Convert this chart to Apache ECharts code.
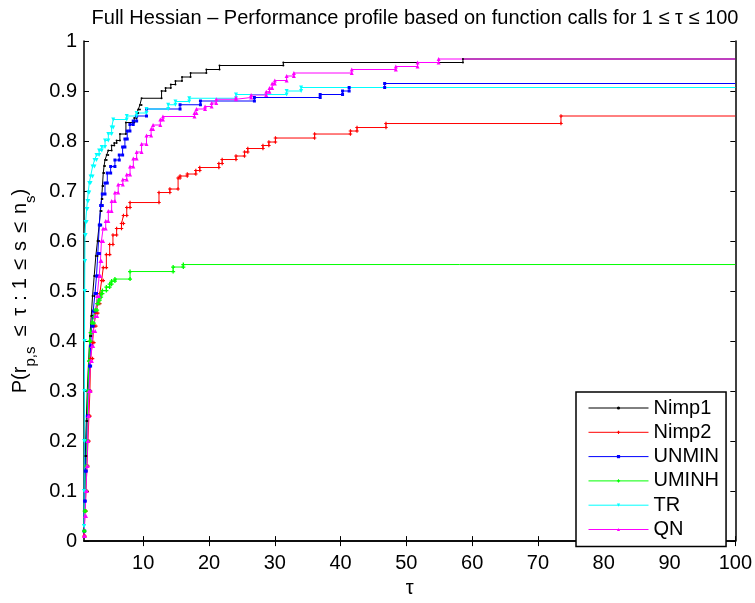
<!DOCTYPE html>
<html>
<head>
<meta charset="utf-8">
<script src="https://cdn.jsdelivr.net/npm/echarts@6/dist/echarts.min.js"></script>
<style>
  html, body { margin: 0; padding: 0; background: #fff; }
  #chart { width: 755px; height: 603px; }
</style>
</head>
<body>
<div id="chart"></div>
<script>
// Performance profiles (stairs): tau where the fraction jumps, and the fraction reached there.
const nimp1Tau = [1, 1.1, 1.2, 1.35, 1.5, 1.7, 1.9, 2.1, 2.3, 2.55, 2.8, 3.05, 3.3, 3.5, 3.68, 3.8, 3.93, 4.05, 4.19, 4.45, 4.69, 5.2, 5.6, 5.96, 6.46, 7.37, 8.64, 9.0, 9.24, 9.5, 9.75, 12.79, 13.4, 14.2, 14.9, 15.9, 17.2, 19.6, 21.6, 31.3, 58.6];
const nimp1Rho = [0.02, 0.1, 0.17, 0.24, 0.3, 0.36, 0.41, 0.45, 0.49, 0.53, 0.57, 0.6, 0.632, 0.66, 0.684, 0.71, 0.736, 0.75, 0.762, 0.772, 0.781, 0.791, 0.796, 0.801, 0.814, 0.837, 0.846, 0.856, 0.863, 0.872, 0.8855, 0.900, 0.906, 0.913, 0.920, 0.928, 0.936, 0.943, 0.951, 0.957, 0.964];

const nimp2Tau = [1, 1.15, 1.3, 1.45, 1.6, 1.75, 1.9, 2.0, 2.3, 2.5, 2.8, 3.1, 3.4, 3.68, 3.93, 4.4, 4.9, 5.4, 5.96, 6.7, 7.0, 7.5, 8.0, 12.4, 14.05, 15.3, 15.6, 16.7, 18.0, 18.6, 21.5, 22.0, 24.1, 25.4, 25.9, 28.2, 29.1, 30.1, 36.05, 41.5, 42.5, 46.9, 73.5];
const nimp2Rho = [0.01, 0.06, 0.1, 0.15, 0.2, 0.25, 0.3, 0.365, 0.397, 0.43, 0.456, 0.475, 0.495, 0.521, 0.547, 0.573, 0.593, 0.612, 0.625, 0.635, 0.651, 0.667, 0.677, 0.697, 0.704, 0.726, 0.730, 0.734, 0.741, 0.747, 0.755, 0.763, 0.770, 0.778, 0.785, 0.791, 0.798, 0.806, 0.814, 0.820, 0.827, 0.835, 0.850];

const unminTau = [1, 1.1, 1.2, 1.35, 1.5, 1.65, 1.85, 2.0, 2.17, 2.4, 2.67, 2.9, 3.1, 3.33, 3.53, 3.78, 4.19, 4.54, 5.05, 5.7, 6.36, 6.87, 7.22, 7.57, 7.98, 8.48, 9.0, 10.5, 15.6, 18.7, 26.9, 36.9, 40.3, 41.3, 46.7];
const unminRho = [0.02, 0.08, 0.14, 0.2, 0.25, 0.3, 0.35, 0.39, 0.43, 0.46, 0.495, 0.53, 0.575, 0.632, 0.671, 0.694, 0.716, 0.736, 0.749, 0.762, 0.772, 0.788, 0.804, 0.820, 0.833, 0.840, 0.850, 0.864, 0.8725, 0.880, 0.887, 0.893, 0.900, 0.907, 0.915];

const uminhTau = [1, 1.1, 1.25, 1.35, 1.45, 1.6, 1.75, 1.85, 2.0, 2.2, 2.5, 2.7, 3.0, 3.2, 3.4, 3.6, 3.8, 4.4, 4.9, 5.2, 5.7, 8.0, 14.55, 16.1];
const uminhRho = [0.02, 0.06, 0.1, 0.15, 0.2, 0.3, 0.36, 0.4, 0.417, 0.436, 0.449, 0.462, 0.475, 0.482, 0.488, 0.495, 0.501, 0.508, 0.514, 0.52, 0.524, 0.539, 0.548, 0.553];

const trTau = [1, 1.02, 1.04, 1.06, 1.08, 1.1, 1.13, 1.15, 1.25, 1.4, 1.52, 1.65, 1.8, 2.0, 2.3, 2.6, 2.9, 3.3, 3.7, 4.2, 4.7, 5.2, 5.45, 7.5, 9.0, 10.5, 13.8, 14.9, 17.0, 24.1, 31.8, 34.0];
const trRho = [0.03, 0.1, 0.2, 0.3, 0.4, 0.5, 0.56, 0.612, 0.638, 0.664, 0.68, 0.697, 0.716, 0.729, 0.749, 0.762, 0.772, 0.781, 0.788, 0.801, 0.814, 0.827, 0.843, 0.850, 0.856, 0.864, 0.8725, 0.879, 0.8855, 0.893, 0.900, 0.907];

const qnTau = [1, 1.15, 1.3, 1.45, 1.55, 1.65, 1.75, 2.0, 2.2, 2.4, 2.7, 3.0, 3.3, 3.5, 3.65, 3.9, 4.3, 4.7, 5.2, 5.7, 6.2, 6.9, 7.5, 8.0, 8.5, 9.0, 9.75, 10.5, 11.2, 11.5, 12.6, 13.0, 17.8, 18.1, 19.4, 20.4, 21.1, 24.1, 26.4, 28.7, 29.2, 29.6, 30.0, 31.8, 32.9, 41.7, 48.4, 51.7, 54.9];
const qnRho = [0.01, 0.05, 0.1, 0.15, 0.2, 0.25, 0.3, 0.36, 0.39, 0.42, 0.45, 0.49, 0.53, 0.56, 0.6, 0.625, 0.64, 0.66, 0.68, 0.697, 0.713, 0.723, 0.733, 0.749, 0.765, 0.778, 0.794, 0.811, 0.824, 0.832, 0.843, 0.849, 0.856, 0.864, 0.869, 0.876, 0.8835, 0.887, 0.892, 0.8986, 0.906, 0.915, 0.921, 0.930, 0.936, 0.943, 0.949, 0.957, 0.964];

const tauMin = 1;
const tauMax = 100;
const xTickValues = [10, 20, 30, 40, 50, 60, 70, 80, 90, 100];

const FONT = "'Liberation Sans', Arial, Helvetica, sans-serif";

// Turn (tau, rho) jumps into the corner points of a staircase, with a marker on each corner.
function stairs(tau, rho) {
  const pts = [[tau[0], rho[0]]];
  for (let i = 1; i < tau.length; i++) {
    pts.push([tau[i], rho[i - 1]]);
    pts.push([tau[i], rho[i]]);
  }
  pts.push({ value: [tauMax, rho[rho.length - 1]], symbol: 'none' });
  return pts;
}

const PLUS = 'path://M2,0h2v2h2v2h-2v2h-2v-2h-2v-2h2z';

function profile(name, tau, rho, color, symbol, size, rotate) {
  return {
    name: name,
    type: 'line',
    xAxisIndex: 0,
    yAxisIndex: 0,
    data: stairs(tau, rho),
    showSymbol: true,
    showAllSymbol: true,
    symbol: symbol,
    symbolSize: size,
    symbolRotate: rotate || 0,
    itemStyle: { color: color },
    lineStyle: { color: color, width: 1 },
    emphasis: { disabled: true },
    silent: true
  };
}

const chart = echarts.init(document.getElementById('chart'), null, { renderer: 'canvas' });

const yName = '{m|P(r}{sa|p,s}{o5|\u2264}{o5|\u03c4}{c|:}{o4|1}{o4|\u2264}{o4|s}{o4|\u2264}{on|n}{sb|s}{m|)}';

const tickInside = { show: true, inside: true, length: 5, lineStyle: { color: '#000', width: 1 } };
const axisLine = { show: true, lineStyle: { color: '#000', width: 1.5 } };

chart.setOption({
  animation: false,
  backgroundColor: '#fff',
  textStyle: { fontFamily: FONT },
  title: {
    text: 'Full Hessian \u2013 Performance profile based on function calls for 1 \u2264 \u03c4 \u2264 100',
    left: 410,
    textAlign: 'center',
    top: 3,
    textStyle: { fontFamily: FONT, fontSize: 20, fontWeight: 'normal', color: '#000' }
  },
  grid: { left: 84, right: 19, top: 41, bottom: 50, containLabel: false },
  legend: {
    orient: 'vertical',
    left: 576,
    top: 392,
    padding: [6, 7, 7, 12],
    itemGap: 4.3,
    itemWidth: 60,
    itemHeight: 4,
    backgroundColor: '#fff',
    borderColor: '#000',
    borderWidth: 1.5,
    borderRadius: 0,
    lineStyle: { width: 1 },
    textStyle: { fontFamily: FONT, fontSize: 20, color: '#000', lineHeight: 20 },
    data: ['Nimp1', 'Nimp2', 'UNMIN', 'UMINH', 'TR', 'QN']
  },
  xAxis: [
    {
      type: 'value', position: 'bottom', min: tauMin, max: tauMax,
      axisLine: axisLine,
      axisTick: Object.assign({ customValues: xTickValues }, tickInside),
      axisLabel: { customValues: xTickValues, fontFamily: FONT, fontSize: 20, color: '#000', margin: 12 },
      splitLine: { show: false },
      name: '\u03c4', nameLocation: 'middle', nameGap: 14,
      nameTextStyle: { fontFamily: FONT, fontSize: 20, color: '#000' }
    },
    {
      type: 'value', position: 'top', min: tauMin, max: tauMax,
      axisLine: axisLine,
      axisTick: Object.assign({ customValues: xTickValues }, tickInside),
      axisLabel: { show: false },
      splitLine: { show: false }
    }
  ],
  yAxis: [
    {
      type: 'value', position: 'left', min: 0, max: 1, interval: 0.1,
      axisLine: axisLine,
      axisTick: tickInside,
      axisLabel: { fontFamily: FONT, fontSize: 20, color: '#000', margin: 7 },
      splitLine: { show: false },
      name: yName, nameLocation: 'middle', nameRotate: 90, nameGap: 44,
      nameTextStyle: {
        fontFamily: FONT, color: '#000',
        rich: {
          m:  { fontFamily: FONT, fontSize: 20, lineHeight: 36, color: '#000' },
          sa: { fontFamily: FONT, fontSize: 15, lineHeight: 15, verticalAlign: 'bottom', padding: [0, 5, 0, 0], color: '#000' },
          sb: { fontFamily: FONT, fontSize: 15, lineHeight: 15, verticalAlign: 'bottom', color: '#000' },
          o5: { fontFamily: FONT, fontSize: 20, lineHeight: 36, padding: [0, 5, 0, 5], color: '#000' },
          o4: { fontFamily: FONT, fontSize: 20, lineHeight: 36, padding: [0, 4, 0, 4], color: '#000' },
          on: { fontFamily: FONT, fontSize: 20, lineHeight: 36, padding: [0, 0, 0, 4], color: '#000' },
          c:  { fontFamily: FONT, fontSize: 20, lineHeight: 36, padding: [0, 2, 0, 2], color: '#000' }
        }
      }
    },
    {
      type: 'value', position: 'right', min: 0, max: 1, interval: 0.1,
      axisLine: axisLine,
      axisTick: tickInside,
      axisLabel: { show: false },
      splitLine: { show: false }
    }
  ],
  series: [
    profile('Nimp1', nimp1Tau, nimp1Rho, '#000000', 'circle', 2),
    profile('Nimp2', nimp2Tau, nimp2Rho, '#ff0000', PLUS, 3.5),
    profile('UNMIN', unminTau, unminRho, '#0000ff', 'rect', 3),
    profile('UMINH', uminhTau, uminhRho, '#00ff00', PLUS, 4),
    profile('TR', trTau, trRho, '#00ffff', 'triangle', 4, 180),
    profile('QN', qnTau, qnRho, '#ff00ff', 'triangle', 4)
  ]
});
</script>
</body>
</html>
